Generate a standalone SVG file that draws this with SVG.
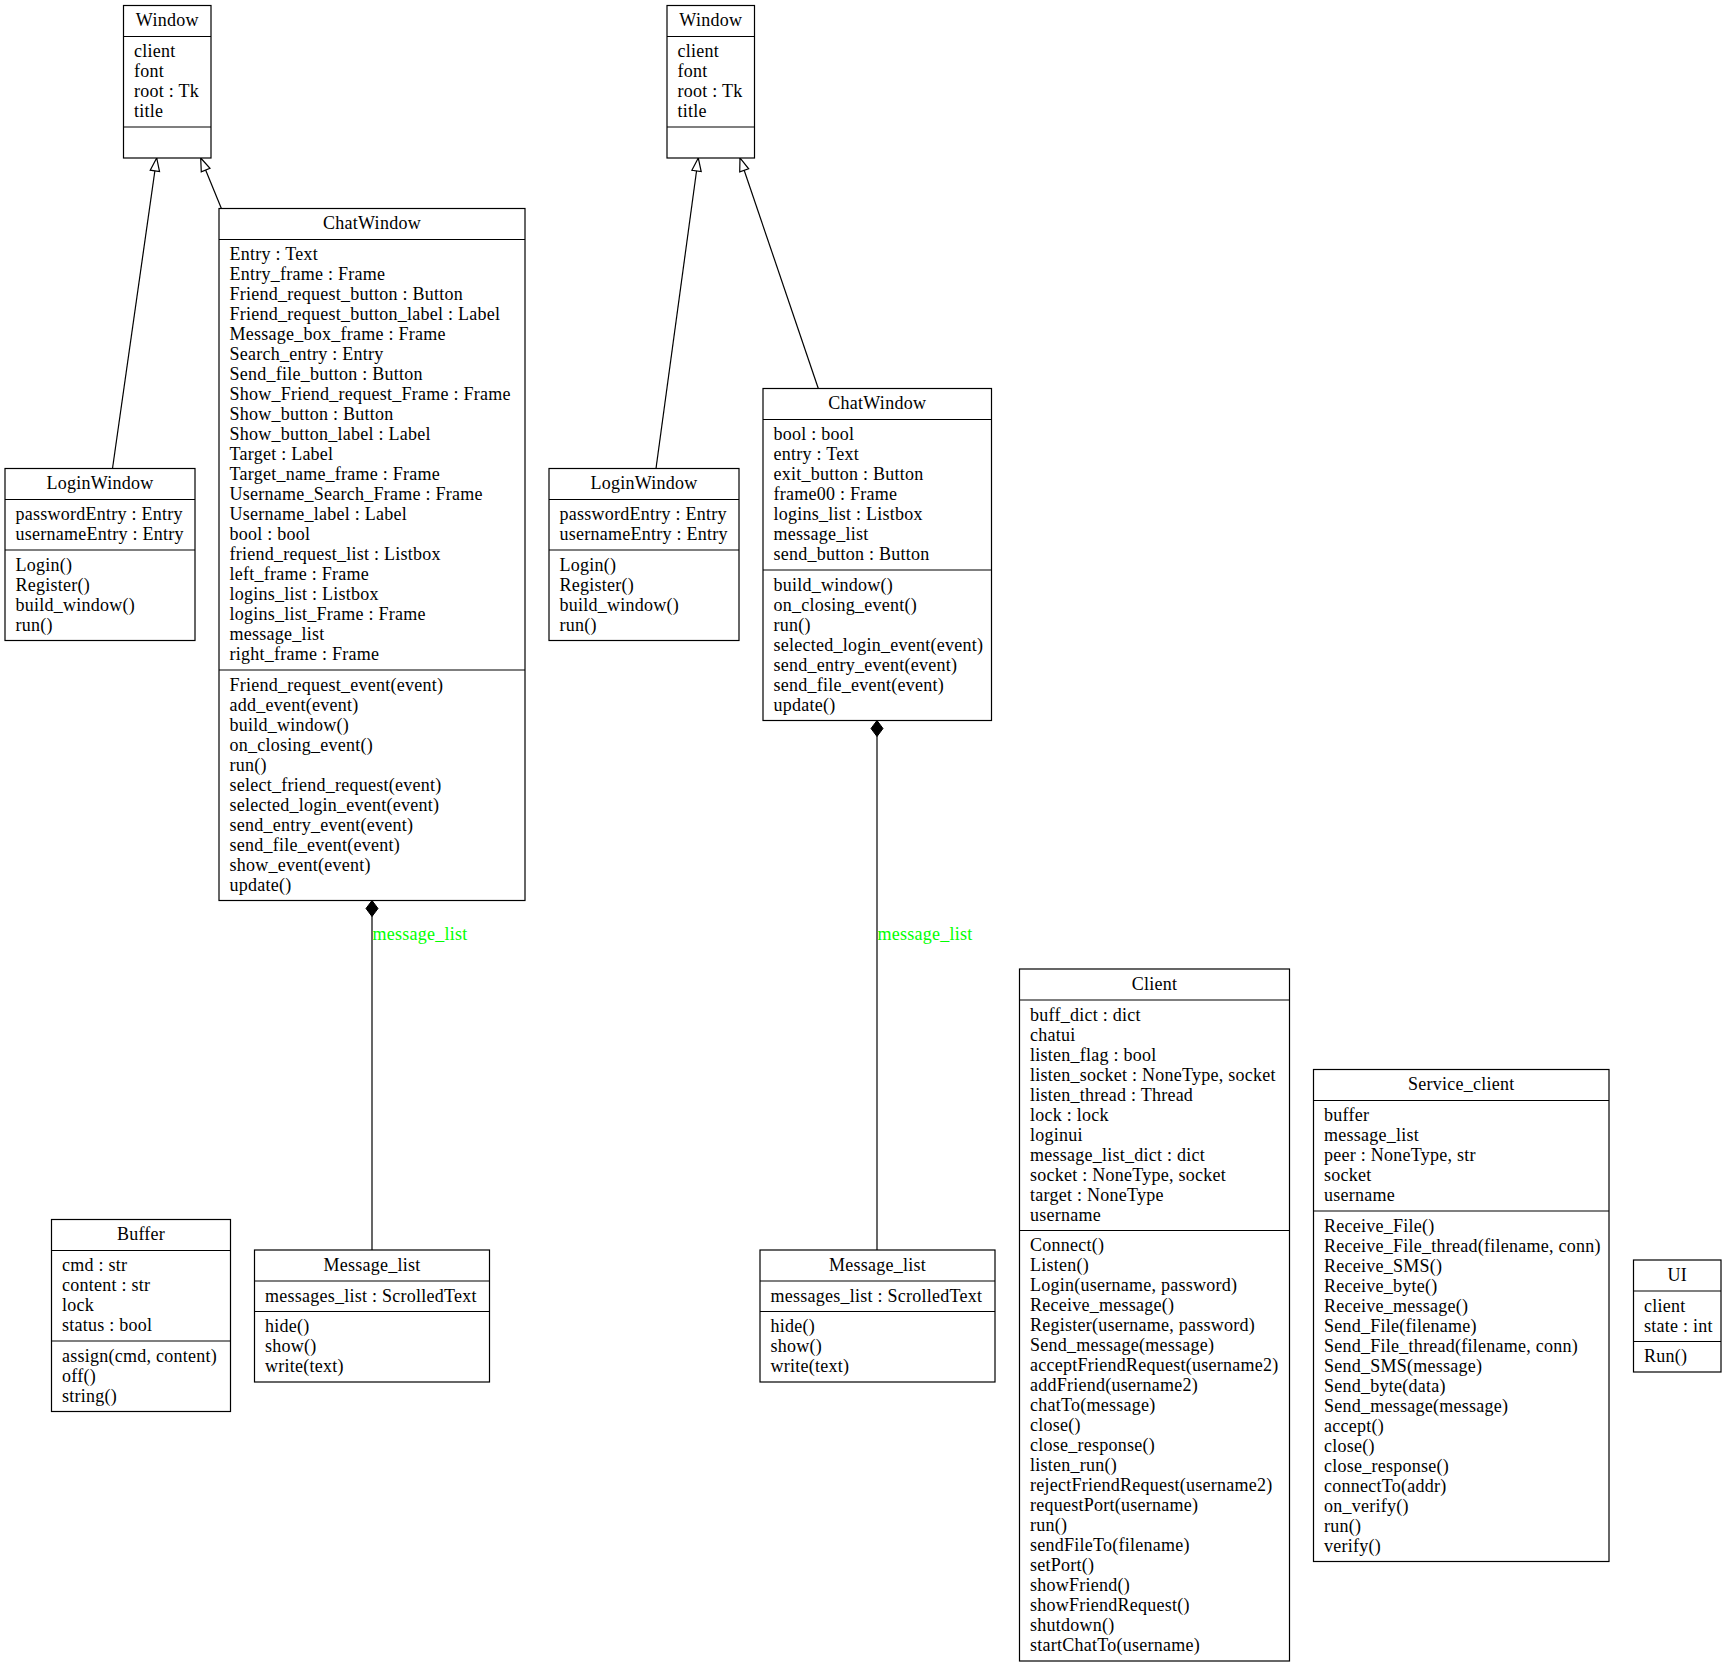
<svg xmlns="http://www.w3.org/2000/svg" width="1727" height="1668" viewBox="0 0 1727 1668">
<style>
.n rect{fill:#fff;stroke:#000;stroke-width:1.2}
.n line{stroke:#000;stroke-width:1.2}
text{font-family:"Liberation Serif","Times New Roman",serif;font-size:18px;letter-spacing:0.25px;fill:#000}
.t{text-anchor:middle}
.e path{fill:none;stroke:#000;stroke-width:1.2}
.lbl{fill:#00ff00}
</style>
<defs>
<marker id="inh" markerUnits="userSpaceOnUse" markerWidth="16" markerHeight="12" viewBox="-1 -6 16 12" refX="13" refY="0" orient="auto">
<path d="M0,-4.7 L13,0 L0,4.7 Z" fill="#fff" stroke="#000" stroke-width="1.2"/>
</marker>
<marker id="comp" markerUnits="userSpaceOnUse" markerWidth="18" markerHeight="14" viewBox="-1 -7 18 14" refX="16" refY="0" orient="auto">
<path d="M0,0 L8,-6 L16,0 L8,6 Z" fill="#000" stroke="#000" stroke-width="1"/>
</marker>
</defs>
<rect width="1727" height="1668" fill="#fff"/>

<g id="connectors" class="e">
<path d="M112.5,468.5 L156.7,158" marker-end="url(#inh)"/>
<path d="M221.4,208.5 L200.7,158" marker-end="url(#inh)"/>
<path d="M656,468.5 L698.3,158" marker-end="url(#inh)"/>
<path d="M818.3,388.5 L740,158" marker-end="url(#inh)"/>
<path d="M372,1250 L372,900.5" marker-end="url(#comp)"/>
<path d="M877,1250 L877,720.5" marker-end="url(#comp)"/>
<text class="lbl" x="372.5" y="939.5">message_list</text>
<text class="lbl" x="877.5" y="939.5">message_list</text>
</g>

<g id="window1" class="n">
<rect x="123.5" y="5.5" width="87.5" height="152.5"/>
<line x1="123.5" y1="36.5" x2="211" y2="36.5"/>
<line x1="123.5" y1="127" x2="211" y2="127"/>
<text class="t" x="167.25" y="26">Window</text>
<text x="134"><tspan x="134" y="57">client</tspan><tspan x="134" dy="20">font</tspan><tspan x="134" dy="20">root : Tk</tspan><tspan x="134" dy="20">title</tspan></text>
</g>

<g id="loginwindow1" class="n">
<rect x="5" y="468.5" width="190" height="172"/>
<line x1="5" y1="499.5" x2="195" y2="499.5"/>
<line x1="5" y1="550" x2="195" y2="550"/>
<text class="t" x="100" y="489">LoginWindow</text>
<text><tspan x="15.5" y="520">passwordEntry : Entry</tspan><tspan x="15.5" dy="20">usernameEntry : Entry</tspan></text>
<text><tspan x="15.5" y="570.5">Login()</tspan><tspan x="15.5" dy="20">Register()</tspan><tspan x="15.5" dy="20">build_window()</tspan><tspan x="15.5" dy="20">run()</tspan></text>
</g>

<g id="chatwindow1" class="n">
<rect x="219" y="208.5" width="306" height="692"/>
<line x1="219" y1="239.5" x2="525" y2="239.5"/>
<line x1="219" y1="670" x2="525" y2="670"/>
<text class="t" x="372" y="229">ChatWindow</text>
<text><tspan x="229.5" y="260">Entry : Text</tspan><tspan x="229.5" dy="20">Entry_frame : Frame</tspan><tspan x="229.5" dy="20">Friend_request_button : Button</tspan><tspan x="229.5" dy="20">Friend_request_button_label : Label</tspan><tspan x="229.5" dy="20">Message_box_frame : Frame</tspan><tspan x="229.5" dy="20">Search_entry : Entry</tspan><tspan x="229.5" dy="20">Send_file_button : Button</tspan><tspan x="229.5" dy="20">Show_Friend_request_Frame : Frame</tspan><tspan x="229.5" dy="20">Show_button : Button</tspan><tspan x="229.5" dy="20">Show_button_label : Label</tspan><tspan x="229.5" dy="20">Target : Label</tspan><tspan x="229.5" dy="20">Target_name_frame : Frame</tspan><tspan x="229.5" dy="20">Username_Search_Frame : Frame</tspan><tspan x="229.5" dy="20">Username_label : Label</tspan><tspan x="229.5" dy="20">bool : bool</tspan><tspan x="229.5" dy="20">friend_request_list : Listbox</tspan><tspan x="229.5" dy="20">left_frame : Frame</tspan><tspan x="229.5" dy="20">logins_list : Listbox</tspan><tspan x="229.5" dy="20">logins_list_Frame : Frame</tspan><tspan x="229.5" dy="20">message_list</tspan><tspan x="229.5" dy="20">right_frame : Frame</tspan></text>
<text><tspan x="229.5" y="690.5">Friend_request_event(event)</tspan><tspan x="229.5" dy="20">add_event(event)</tspan><tspan x="229.5" dy="20">build_window()</tspan><tspan x="229.5" dy="20">on_closing_event()</tspan><tspan x="229.5" dy="20">run()</tspan><tspan x="229.5" dy="20">select_friend_request(event)</tspan><tspan x="229.5" dy="20">selected_login_event(event)</tspan><tspan x="229.5" dy="20">send_entry_event(event)</tspan><tspan x="229.5" dy="20">send_file_event(event)</tspan><tspan x="229.5" dy="20">show_event(event)</tspan><tspan x="229.5" dy="20">update()</tspan></text>
</g>

<g id="window2" class="n">
<rect x="667" y="5.5" width="87.5" height="152.5"/>
<line x1="667" y1="36.5" x2="754.5" y2="36.5"/>
<line x1="667" y1="127" x2="754.5" y2="127"/>
<text class="t" x="710.75" y="26">Window</text>
<text><tspan x="677.5" y="57">client</tspan><tspan x="677.5" dy="20">font</tspan><tspan x="677.5" dy="20">root : Tk</tspan><tspan x="677.5" dy="20">title</tspan></text>
</g>

<g id="loginwindow2" class="n">
<rect x="549" y="468.5" width="190" height="172"/>
<line x1="549" y1="499.5" x2="739" y2="499.5"/>
<line x1="549" y1="550" x2="739" y2="550"/>
<text class="t" x="644" y="489">LoginWindow</text>
<text><tspan x="559.5" y="520">passwordEntry : Entry</tspan><tspan x="559.5" dy="20">usernameEntry : Entry</tspan></text>
<text><tspan x="559.5" y="570.5">Login()</tspan><tspan x="559.5" dy="20">Register()</tspan><tspan x="559.5" dy="20">build_window()</tspan><tspan x="559.5" dy="20">run()</tspan></text>
</g>

<g id="chatwindow2" class="n">
<rect x="763" y="388.5" width="228.5" height="332"/>
<line x1="763" y1="419.5" x2="991.5" y2="419.5"/>
<line x1="763" y1="570" x2="991.5" y2="570"/>
<text class="t" x="877.25" y="409">ChatWindow</text>
<text><tspan x="773.5" y="440">bool : bool</tspan><tspan x="773.5" dy="20">entry : Text</tspan><tspan x="773.5" dy="20">exit_button : Button</tspan><tspan x="773.5" dy="20">frame00 : Frame</tspan><tspan x="773.5" dy="20">logins_list : Listbox</tspan><tspan x="773.5" dy="20">message_list</tspan><tspan x="773.5" dy="20">send_button : Button</tspan></text>
<text><tspan x="773.5" y="590.5">build_window()</tspan><tspan x="773.5" dy="20">on_closing_event()</tspan><tspan x="773.5" dy="20">run()</tspan><tspan x="773.5" dy="20">selected_login_event(event)</tspan><tspan x="773.5" dy="20">send_entry_event(event)</tspan><tspan x="773.5" dy="20">send_file_event(event)</tspan><tspan x="773.5" dy="20">update()</tspan></text>
</g>

<g id="buffer" class="n">
<rect x="51.5" y="1219.5" width="179" height="192"/>
<line x1="51.5" y1="1250.5" x2="230.5" y2="1250.5"/>
<line x1="51.5" y1="1341" x2="230.5" y2="1341"/>
<text class="t" x="141" y="1240">Buffer</text>
<text><tspan x="62" y="1271">cmd : str</tspan><tspan x="62" dy="20">content : str</tspan><tspan x="62" dy="20">lock</tspan><tspan x="62" dy="20">status : bool</tspan></text>
<text><tspan x="62" y="1361.5">assign(cmd, content)</tspan><tspan x="62" dy="20">off()</tspan><tspan x="62" dy="20">string()</tspan></text>
</g>

<g id="message_list1" class="n">
<rect x="254.5" y="1250" width="235" height="132"/>
<line x1="254.5" y1="1281" x2="489.5" y2="1281"/>
<line x1="254.5" y1="1311.5" x2="489.5" y2="1311.5"/>
<text class="t" x="372" y="1270.5">Message_list</text>
<text><tspan x="265" y="1301.5">messages_list : ScrolledText</tspan></text>
<text><tspan x="265" y="1332">hide()</tspan><tspan x="265" dy="20">show()</tspan><tspan x="265" dy="20">write(text)</tspan></text>
</g>

<g id="message_list2" class="n">
<rect x="760" y="1250" width="235" height="132"/>
<line x1="760" y1="1281" x2="995" y2="1281"/>
<line x1="760" y1="1311.5" x2="995" y2="1311.5"/>
<text class="t" x="877.5" y="1270.5">Message_list</text>
<text><tspan x="770.5" y="1301.5">messages_list : ScrolledText</tspan></text>
<text><tspan x="770.5" y="1332">hide()</tspan><tspan x="770.5" dy="20">show()</tspan><tspan x="770.5" dy="20">write(text)</tspan></text>
</g>

<g id="client" class="n">
<rect x="1019.5" y="969" width="270" height="692"/>
<line x1="1019.5" y1="1000" x2="1289.5" y2="1000"/>
<line x1="1019.5" y1="1230.5" x2="1289.5" y2="1230.5"/>
<text class="t" x="1154.5" y="989.5">Client</text>
<text><tspan x="1030" y="1020.5">buff_dict : dict</tspan><tspan x="1030" dy="20">chatui</tspan><tspan x="1030" dy="20">listen_flag : bool</tspan><tspan x="1030" dy="20">listen_socket : NoneType, socket</tspan><tspan x="1030" dy="20">listen_thread : Thread</tspan><tspan x="1030" dy="20">lock : lock</tspan><tspan x="1030" dy="20">loginui</tspan><tspan x="1030" dy="20">message_list_dict : dict</tspan><tspan x="1030" dy="20">socket : NoneType, socket</tspan><tspan x="1030" dy="20">target : NoneType</tspan><tspan x="1030" dy="20">username</tspan></text>
<text><tspan x="1030" y="1251">Connect()</tspan><tspan x="1030" dy="20">Listen()</tspan><tspan x="1030" dy="20">Login(username, password)</tspan><tspan x="1030" dy="20">Receive_message()</tspan><tspan x="1030" dy="20">Register(username, password)</tspan><tspan x="1030" dy="20">Send_message(message)</tspan><tspan x="1030" dy="20">acceptFriendRequest(username2)</tspan><tspan x="1030" dy="20">addFriend(username2)</tspan><tspan x="1030" dy="20">chatTo(message)</tspan><tspan x="1030" dy="20">close()</tspan><tspan x="1030" dy="20">close_response()</tspan><tspan x="1030" dy="20">listen_run()</tspan><tspan x="1030" dy="20">rejectFriendRequest(username2)</tspan><tspan x="1030" dy="20">requestPort(username)</tspan><tspan x="1030" dy="20">run()</tspan><tspan x="1030" dy="20">sendFileTo(filename)</tspan><tspan x="1030" dy="20">setPort()</tspan><tspan x="1030" dy="20">showFriend()</tspan><tspan x="1030" dy="20">showFriendRequest()</tspan><tspan x="1030" dy="20">shutdown()</tspan><tspan x="1030" dy="20">startChatTo(username)</tspan></text>
</g>

<g id="service_client" class="n">
<rect x="1313.5" y="1069.5" width="295.5" height="492"/>
<line x1="1313.5" y1="1100.5" x2="1609" y2="1100.5"/>
<line x1="1313.5" y1="1211" x2="1609" y2="1211"/>
<text class="t" x="1461.25" y="1090">Service_client</text>
<text><tspan x="1324" y="1121">buffer</tspan><tspan x="1324" dy="20">message_list</tspan><tspan x="1324" dy="20">peer : NoneType, str</tspan><tspan x="1324" dy="20">socket</tspan><tspan x="1324" dy="20">username</tspan></text>
<text><tspan x="1324" y="1231.5">Receive_File()</tspan><tspan x="1324" dy="20">Receive_File_thread(filename, conn)</tspan><tspan x="1324" dy="20">Receive_SMS()</tspan><tspan x="1324" dy="20">Receive_byte()</tspan><tspan x="1324" dy="20">Receive_message()</tspan><tspan x="1324" dy="20">Send_File(filename)</tspan><tspan x="1324" dy="20">Send_File_thread(filename, conn)</tspan><tspan x="1324" dy="20">Send_SMS(message)</tspan><tspan x="1324" dy="20">Send_byte(data)</tspan><tspan x="1324" dy="20">Send_message(message)</tspan><tspan x="1324" dy="20">accept()</tspan><tspan x="1324" dy="20">close()</tspan><tspan x="1324" dy="20">close_response()</tspan><tspan x="1324" dy="20">connectTo(addr)</tspan><tspan x="1324" dy="20">on_verify()</tspan><tspan x="1324" dy="20">run()</tspan><tspan x="1324" dy="20">verify()</tspan></text>
</g>

<g id="ui" class="n">
<rect x="1633.5" y="1260" width="87.5" height="112"/>
<line x1="1633.5" y1="1291" x2="1721" y2="1291"/>
<line x1="1633.5" y1="1341.5" x2="1721" y2="1341.5"/>
<text class="t" x="1677.25" y="1280.5">UI</text>
<text><tspan x="1644" y="1311.5">client</tspan><tspan x="1644" dy="20">state : int</tspan></text>
<text><tspan x="1644" y="1362">Run()</tspan></text>
</g>
</svg>
